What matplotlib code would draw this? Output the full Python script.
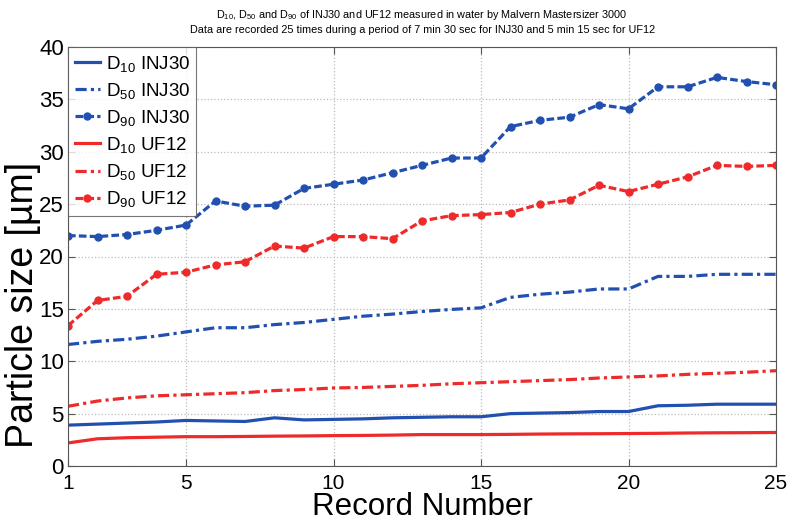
import matplotlib
matplotlib.use("Agg")
import matplotlib.pyplot as plt

plt.rcParams['font.family'] = ['Liberation Sans', 'DejaVu Sans']
plt.rcParams['mathtext.default'] = 'regular'

records = list(range(1, 26))
d10_inj30 = [3.9, 4.0, 4.1, 4.2, 4.35, 4.3, 4.25, 4.6, 4.4, 4.45, 4.5, 4.6, 4.65,
             4.7, 4.7, 5.0, 5.05, 5.1, 5.2, 5.2, 5.75, 5.8, 5.9, 5.9, 5.9]
d50_inj30 = [11.6, 11.9, 12.1, 12.4, 12.8, 13.2, 13.2, 13.5, 13.7, 14.0, 14.3, 14.5, 14.75,
             14.95, 15.1, 16.1, 16.4, 16.6, 16.9, 16.9, 18.1, 18.1, 18.3, 18.3, 18.3]
d90_inj30 = [22.0, 21.9, 22.1, 22.5, 23.0, 25.3, 24.8, 24.9, 26.5, 26.9, 27.3, 28.0, 28.7,
             29.4, 29.4, 32.4, 33.0, 33.3, 34.5, 34.1, 36.2, 36.2, 37.1, 36.7, 36.4]
d10_uf12 = [2.2, 2.6, 2.7, 2.75, 2.8, 2.8, 2.82, 2.85, 2.87, 2.9, 2.92, 2.95, 3.0,
            3.0, 3.0, 3.02, 3.05, 3.07, 3.08, 3.1, 3.12, 3.15, 3.17, 3.18, 3.2]
d50_uf12 = [5.7, 6.2, 6.5, 6.7, 6.8, 6.9, 7.0, 7.2, 7.3, 7.45, 7.5, 7.6, 7.7,
            7.85, 7.95, 8.05, 8.15, 8.25, 8.4, 8.5, 8.6, 8.75, 8.85, 8.95, 9.1]
d90_uf12 = [13.4, 15.8, 16.2, 18.3, 18.5, 19.2, 19.5, 21.0, 20.8, 21.9, 21.9, 21.7, 23.4,
            23.9, 24.0, 24.2, 25.0, 25.4, 26.8, 26.2, 26.9, 27.6, 28.7, 28.6, 28.7]

blue = '#2150b0'
red = '#ee2a2a'

fig = plt.figure(figsize=(7.89, 5.22), dpi=100)
ax = fig.add_axes([68/789, 1-466/522, (776-68)/789, (466-47)/522])

lw = 2.3
dashdot = (0, (3.5, 1.3, 1, 1.3))
dashed = (0, (2.4, 1))
ax.plot(records, d10_inj30, color=blue, lw=lw, ls='-', label=r'D$_{10}$ INJ30')
ax.plot(records, d50_inj30, color=blue, lw=lw, ls=dashdot, label=r'D$_{50}$ INJ30')
ax.plot(records, d90_inj30, color=blue, lw=lw, ls=dashed, marker='o', ms=5, label=r'D$_{90}$ INJ30')
ax.plot(records, d10_uf12, color=red, lw=lw, ls='-', label=r'D$_{10}$ UF12')
ax.plot(records, d50_uf12, color=red, lw=lw, ls=dashdot, label=r'D$_{50}$ UF12')
ax.plot(records, d90_uf12, color=red, lw=lw, ls=dashed, marker='o', ms=5, label=r'D$_{90}$ UF12')

ax.set_xlim(1, 25)
ax.set_ylim(0, 40)
ax.set_xticks([1, 5, 10, 15, 20, 25])
ax.set_yticks(range(0, 41, 5))
ax.tick_params(direction='in', top=True, right=True, length=5, width=0.8, color='#555555')
ax.tick_params(axis='x', labelsize=15, pad=6)
ax.tick_params(axis='y', labelsize=16, pad=3)
ax.grid(True, ls=':', color='#bbbbbb', lw=0.9)
for s in ax.spines.values():
    s.set_color('#555555')
    s.set_linewidth(0.8)

ax.set_xlabel('Record Number', fontsize=22.5, labelpad=-1)
ax.set_ylabel('Particle size [µm]', fontsize=27)
ax.yaxis.set_label_coords(-0.038, 0.385)

leg = ax.legend(loc='upper left', fontsize=13.5, handlelength=1.35, handletextpad=0.3,
                borderaxespad=0.0, fancybox=False, edgecolor='#555555',
                labelspacing=0.38, borderpad=0.35)
leg.get_frame().set_linewidth(0.8)

fig.text(0.535, 0.972, r'D$_{10}$, D$_{50}$ and D$_{90}$ of INJ30 and UF12 measured in water by Malvern Mastersizer 3000',
         ha='center', va='center', fontsize=7.8)
fig.text(0.535, 0.942, 'Data are recorded 25 times during a period of 7 min 30 sec for INJ30 and 5 min 15 sec for UF12',
         ha='center', va='center', fontsize=7.8)

fig.savefig('out.png', dpi=100)
